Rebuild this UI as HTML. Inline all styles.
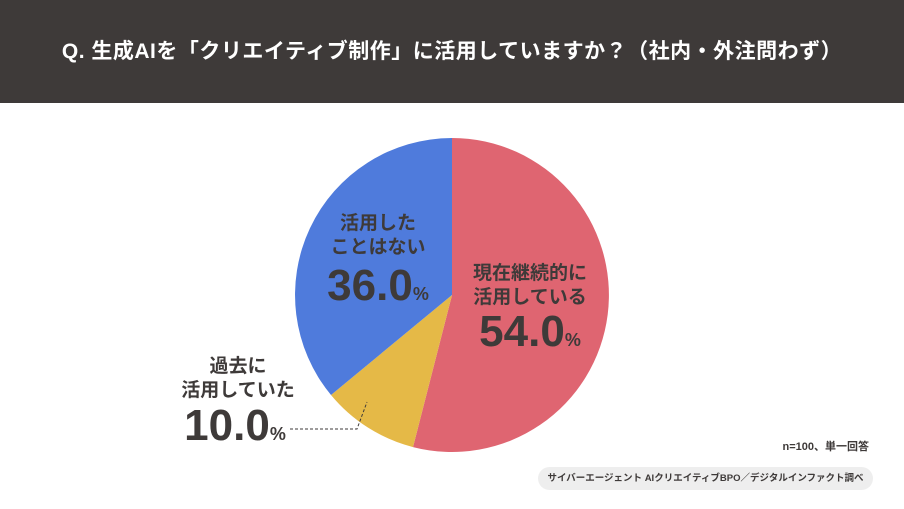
<!DOCTYPE html>
<html><head><meta charset="utf-8"><style>
body{margin:0;width:904px;height:509px;background:#fff;font-family:"Liberation Sans","Noto Sans CJK JP",sans-serif;overflow:hidden;position:relative}
.hd{position:absolute;left:0;top:0;width:904px;height:103px;background:#3e3a39;color:#fff;font-weight:bold;font-size:21px;text-align:center;line-height:103px;letter-spacing:0.5px;white-space:nowrap}
.t{position:absolute;color:#3e3a39;font-weight:bold;text-align:center;white-space:nowrap}
</style></head><body>
<div class="hd">Q. 生成AIを「クリエイティブ制作」に活用していますか？（社内・外注問わず）</div>
<svg width="904" height="509" style="position:absolute;left:0;top:0">
<path d="M452,295 L452,138 A157,157 0 1,1 413,447.1 Z" fill="#df6571"/>
<path d="M452,295 L413,447.1 A157,157 0 0,1 331,395 Z" fill="#e5b947"/>
<path d="M452,295 L331,395 A157,157 0 0,1 452,138 Z" fill="#4f7bdc"/>
<polyline points="290,429 357,429 367,402" fill="none" stroke="#3e3a39" stroke-width="1" stroke-dasharray="3,2"/>
<rect x="538" y="467" width="335" height="23" rx="11.5" fill="#eeeeee"/>
</svg>
<div class="t" style="left:318px;top:212px;width:120px;font-size:19px;line-height:24px">活用した<br>ことはない</div>
<div class="t" style="left:318px;top:262px;width:120px;font-size:44px;line-height:48px">36.0<span style="font-size:18px">%</span></div>
<div class="t" style="left:455px;top:262px;width:150px;font-size:19px;line-height:24px">現在継続的に<br>活用している</div>
<div class="t" style="left:455px;top:308px;width:150px;font-size:44px;line-height:48px">54.0<span style="font-size:18px">%</span></div>
<div class="t" style="left:163px;top:355px;width:150px;font-size:19px;line-height:24px">過去に<br>活用していた</div>
<div class="t" style="left:170px;top:402px;width:130px;font-size:44px;line-height:48px">10.0<span style="font-size:18px">%</span></div>
<div style="position:absolute;right:35px;top:438px;font-size:11px;color:#3e3a39;font-weight:bold">n=100、単一回答</div>
<div style="position:absolute;left:538px;top:467px;width:335px;height:23px;line-height:23px;text-align:center;font-size:9.5px;font-weight:bold;color:#3e3a39;white-space:nowrap">サイバーエージェント AIクリエイティブBPO／デジタルインファクト調べ</div>
</body></html>
